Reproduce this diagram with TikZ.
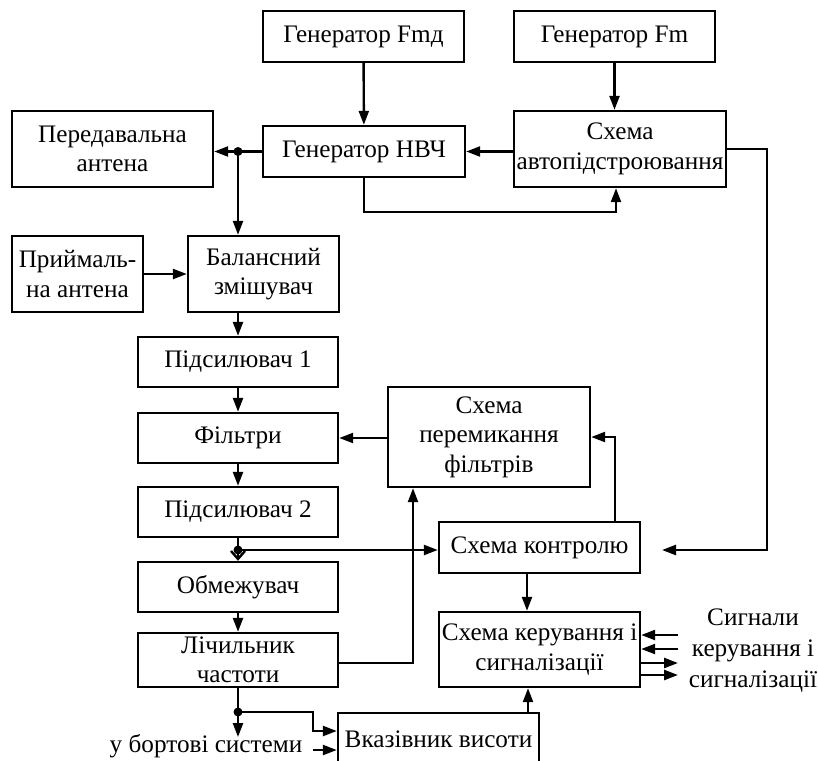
\documentclass[tikz,border=0pt]{standalone}
\usepackage{fontspec}
\setmainfont{Liberation Serif}
\usetikzlibrary{arrows.meta}

\begin{document}
\begin{tikzpicture}[x=0.5pt,y=-0.5pt,line width=1.2pt,
    >={Triangle[length=7pt,width=5pt]},
    blk/.style={draw,align=center,inner sep=0pt,font=\fontsize{12.6}{14.7}\selectfont},
    lbl/.style={align=center,inner sep=0pt,font=\fontsize{12.6}{15.5}\selectfont},
    dot/.style={circle,fill,inner sep=0pt,minimum size=4.5pt}]
  \useasboundingbox (0,0) rectangle (818,760);

  \node[blk,minimum width=100.5pt,minimum height=25.5pt] (fmd) at (363.5,36.5) {Генератор Fmд};
  \node[blk,minimum width=100.5pt,minimum height=25.5pt] (fm) at (614.5,36.5) {Генератор Fm};
  \node[blk,minimum width=100.5pt,minimum height=38pt] (pered) at (112.5,149) {Передавальна\\антена};
  \node[blk,minimum width=101pt,minimum height=25.5pt] (nvch) at (364,151.5) {Генератор НВЧ};
  \node[blk,minimum width=106pt,minimum height=38pt] (avto) at (620,149) {Схема\\автопідстроювання};
  \node[blk,minimum width=65.5pt,minimum height=38pt] (pryi) at (77.5,274) {Приймаль-\\на антена};
  \node[blk,minimum width=75.5pt,minimum height=38pt] (bal) at (263.5,274) {Балансний\\змішувач};
  \node[blk,minimum width=100pt,minimum height=25pt] (pid1) at (238,362) {Підсилювач 1};
  \node[blk,minimum width=100pt,minimum height=25pt] (filt) at (238,438) {Фільтри};
  \node[blk,minimum width=100pt,minimum height=25pt] (pid2) at (238,512) {Підсилювач 2};
  \node[blk,minimum width=100pt,minimum height=25pt] (obm) at (238,587) {Обмежувач};
  \node[blk,minimum width=100pt,minimum height=27pt] (lich) at (238,660) {Лічильник\\частоти};
  \node[blk,minimum width=101pt,minimum height=50pt] (perem) at (489,437) {Схема\\перемикання\\фільтрів};
  \node[blk,minimum width=100.5pt,minimum height=25.5pt] (kontr) at (539.5,547.5) {Схема контролю};
  \node[blk,minimum width=100.5pt,minimum height=37.5pt] (keruv) at (539.5,649.5) {Схема керування і\\сигналізації};
  \node[blk,minimum width=100.5pt,minimum height=26pt] (vkaz) at (438.5,739) {Вказівник висоти};

  \node[lbl] (bort) at (206,746) {у бортові системи};
  \node[lbl] (sig) at (753,651) {Сигнали\\керування і\\сигналізації};

  \coordinate (s1) at (238,151.5);
  \coordinate (s2) at (238,550);
  \coordinate (s3) at (238,712);
  \coordinate (kin) at (662,550);
  \coordinate (bout) at (238,737);
  \coordinate (bin) at (313,750);
  \coordinate (c1) at (616,212);
  \coordinate (c2) at (615,0);
  \coordinate (c3) at (413,663);
  \coordinate (c4) at (527,0);
  \coordinate (c5) at (528,0);
  \coordinate (c6) at (313,712);

  \draw[->] (fmd) -- (nvch);
  \draw[->] (fm.south) -- (fm.south |- avto.north);
  \draw[->] (avto.west |- nvch.east) -- (nvch.east);
  \draw[->] (nvch.west) -- (s1) -- (pered.east |- s1);
  \draw[->] (s1) -- (s1 |- bal.north);
  \draw[->] (nvch.south) |- (c1) -- (c1 |- avto.south);
  \draw[->] (avto.east) -- ++(40,0) |- (kin);
  \draw[->] (pryi) -- (bal);
  \draw[->] (bal.south -| pid1.north) -- (pid1.north);
  \draw[->] (pid1) -- (filt);
  \draw[->] (filt) -- (pid2);
  \draw[-{Straight Barb[length=4pt,width=7pt]}] (pid2) -- (obm);
  \draw[->] (s2) -- (kontr.west |- s2);
  \draw[->] (obm) -- (lich);
  \draw[->] (perem.west |- filt.east) -- (filt.east);
  \draw[->] (c2 |- kontr.north) |- (perem.east);
  \draw[->] (lich.east |- c3) -- (c3) -- (c3 |- perem.south);
  \draw[->] (c4 |- kontr.south) -- (c4 |- keruv.north);
  \foreach \y in {635,649} \draw[->] (678,\y) -- (keruv.east |- 0,\y);
  \foreach \y in {663,675} \draw[->] (keruv.east |- 0,\y) -- (678,\y);
  \draw[->] (lich.south) -- (bout);
  \draw[->] (s3) -- (c6) |- (vkaz.west |- 0,731);
  \draw[->] (bin) -- (vkaz.west |- bin);
  \draw[->] (c5 |- vkaz.north) -- (c5 |- keruv.south);

  \node[dot] at (s1) {};
  \node[dot] at (s2) {};
  \node[dot] at (s3) {};
\end{tikzpicture}
\end{document}
